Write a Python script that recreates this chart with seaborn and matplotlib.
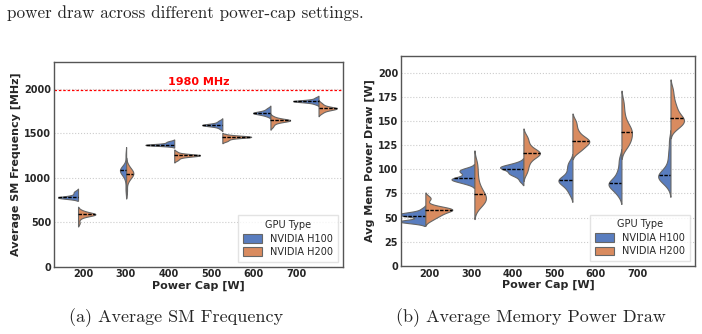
import numpy as np
import pandas as pd
import seaborn as sns
import matplotlib.pyplot as plt
from matplotlib.transforms import blended_transform_factory

power_caps = [200, 300, 400, 500, 600, 700]
gpu_types = ['NVIDIA H100', 'NVIDIA H200']

# samples (one list per power cap)
freq_h100 = [
    [768, 770, 772, 773, 774, 775, 775, 776, 777, 778, 780, 782, 790, 800, 812, 825, 838, 848],
    [870, 980, 1030, 1050, 1060, 1070, 1075, 1080, 1085, 1090, 1095, 1100, 1110, 1120, 1250],
    [1355, 1360, 1362, 1364, 1365, 1366, 1367, 1368, 1369, 1370, 1372, 1375, 1380, 1388, 1395, 1402, 1410],
    [1548, 1565, 1578, 1583, 1586, 1588, 1589, 1590, 1591, 1592, 1594, 1597, 1605, 1615, 1628, 1640],
    [1690, 1700, 1710, 1716, 1720, 1723, 1725, 1727, 1729, 1731, 1735, 1742, 1752, 1765, 1780],
    [1825, 1838, 1846, 1851, 1854, 1856, 1857, 1858, 1859, 1860, 1862, 1866, 1872, 1882, 1898],
]
freq_h200 = [
    [490, 540, 565, 575, 580, 583, 585, 586, 588, 590, 592, 595, 600, 610, 620, 635],
    [850, 950, 990, 1010, 1025, 1035, 1040, 1045, 1055, 1065, 1075, 1090, 1110, 1140],
    [1195, 1210, 1225, 1235, 1240, 1244, 1246, 1248, 1250, 1251, 1252, 1253, 1254, 1256, 1260, 1270, 1290],
    [1408, 1420, 1432, 1442, 1448, 1452, 1454, 1456, 1457, 1458, 1459, 1460, 1462, 1466, 1472, 1480],
    [1570, 1595, 1612, 1625, 1632, 1637, 1640, 1642, 1643, 1644, 1645, 1647, 1650, 1658, 1670, 1685],
    [1722, 1738, 1752, 1762, 1768, 1772, 1775, 1777, 1778, 1779, 1781, 1785, 1792, 1805, 1820, 1838],
]
mem_h100 = [
    [45, 45.5, 46, 46, 46, 46.5, 46.5, 47, 51, 52, 52.5, 53, 53, 53.5, 54, 54, 55, 56, 59],
    [85, 86, 87.5, 88.5, 89, 89.5, 90, 90.5, 91, 92, 94, 96, 97, 98, 99, 100, 101],
    [88, 92, 94, 95.5, 96, 97, 99, 100, 101, 101.5, 102, 102.5, 103, 104, 105, 107],
    [74, 78, 81, 83, 85, 86, 87, 88, 89, 89.5, 90, 91, 93, 96, 99, 102, 105, 108],
    [73, 76, 79, 81, 82, 83, 84, 85, 86, 87, 88, 90, 93, 96, 100, 106, 112],
    [82, 86, 88, 89, 90, 91, 92, 93, 94, 95, 96, 97, 99, 102, 107, 113, 120, 130],
]
mem_h200 = [
    [47, 49, 51, 52, 53, 54, 55, 56, 57, 57.5, 58, 58.5, 59, 59, 59.5, 60, 61, 63, 69, 71],
    [60, 63, 65, 66, 68, 69, 70, 71, 72, 74, 76, 78, 80, 83, 87, 92, 97, 103, 108],
    [96, 100, 104, 107, 110, 112, 114, 115, 116, 116.5, 117, 117.5, 118, 119, 121, 124, 127, 131, 134],
    [118, 120, 122, 124, 126, 127, 128, 129, 130, 131, 132, 134, 137, 140, 145, 150],
    [122, 124, 127, 129, 131, 133, 135, 137, 139, 140, 142, 144, 146, 150, 155, 162, 170],
    [142, 144, 146, 147, 149, 150, 151, 152, 153, 155, 157, 160, 163, 166, 170, 176, 183],
]


def to_long(h100, h200, col):
    rows = []
    for cap, a, b in zip(power_caps, h100, h200):
        rows += [(cap, gpu_types[0], v) for v in a]
        rows += [(cap, gpu_types[1], v) for v in b]
    return pd.DataFrame(rows, columns=['cap', 'gpu', col])


freq_df = to_long(freq_h100, freq_h200, 'freq')
mem_df = to_long(mem_h100, mem_h200, 'mem')

sns.set_style('white')
palette = sns.color_palette('muted', 2)

fig = plt.figure(figsize=(7.02, 3.34), dpi=100)
ax1 = fig.add_axes([0.0769, 0.2015, 0.4111, 0.6135])
ax2 = fig.add_axes([0.571, 0.2036, 0.419, 0.6284])


def draw(ax, df, col, width, bw_adjust, tick_start, tick_step):
    sns.violinplot(data=df, x='cap', y=col, hue='gpu', split=True, inner='quart',
                   palette=palette, linecolor='#666666', linewidth=0.8, bw_adjust=bw_adjust,
                   width=width, inner_kws=dict(color='black', linewidth=1.0), ax=ax)
    # keep only the median line of each half
    for i, ln in enumerate(ax.lines):
        if i % 3 != 1:
            ln.set_visible(False)
    ax.set_xlim(-0.5, 5.5)
    ax.set_xticks([tick_start + tick_step * i for i in range(len(power_caps))])
    ax.set_xticklabels(power_caps)
    ax.tick_params(axis='both', labelsize=7, length=0, pad=2)
    for lab in ax.get_xticklabels() + ax.get_yticklabels():
        lab.set_fontweight('bold')
    ax.yaxis.grid(True, linestyle=':', color='#cccccc', linewidth=0.8)
    ax.set_axisbelow(True)
    for sp in ax.spines.values():
        sp.set_color('#555555')
        sp.set_linewidth(1.0)
    ax.set_xlabel('Power Cap [W]', fontsize=8, fontweight='bold', labelpad=1)
    sns.move_legend(ax, 'lower right', title='GPU Type', fontsize=7, title_fontsize=7,
                    frameon=True, handlelength=2.0, handleheight=1.0, borderpad=0.5,
                    labelspacing=0.35, edgecolor='#dddddd', fancybox=False)


draw(ax1, freq_df, 'freq', 1.2, 1.0, 0.104, 0.886)
ax1.set_ylim(0, 2300)
ax1.set_yticks([0, 500, 1000, 1500, 2000])
ax1.set_ylabel('Average SM Frequency [MHz]', fontsize=8, fontweight='bold', labelpad=2)
ax1.axhline(1980, color='red', linestyle='--', linewidth=0.9, dashes=(2, 1.5))
trans = blended_transform_factory(ax1.transAxes, ax1.transData)
ax1.text(0.5, 2020, '1980 MHz', color='red', fontsize=8, fontweight='bold',
         ha='center', va='bottom', transform=trans)

draw(ax2, mem_df, 'mem', 1.1, 0.75, 0.088, 0.847)
ax2.set_ylim(0, 217)
ax2.set_yticks([0, 25, 50, 75, 100, 125, 150, 175, 200])
ax2.set_ylabel('Avg Mem Power Draw [W]', fontsize=8, fontweight='bold', labelpad=2)

fig.text(0.01, 1 - 13 / 334, 'power draw across different power-cap settings.',
         family='cmr10', fontsize=12.3, ha='left', va='center')
fig.text(176 / 702, 1 - 318 / 334, '(a) Average SM Frequency',
         family='cmr10', fontsize=13, ha='center', va='center')
fig.text(531 / 702, 1 - 318 / 334, '(b) Average Memory Power Draw',
         family='cmr10', fontsize=13, ha='center', va='center')

fig.savefig('out.png', dpi=100)
